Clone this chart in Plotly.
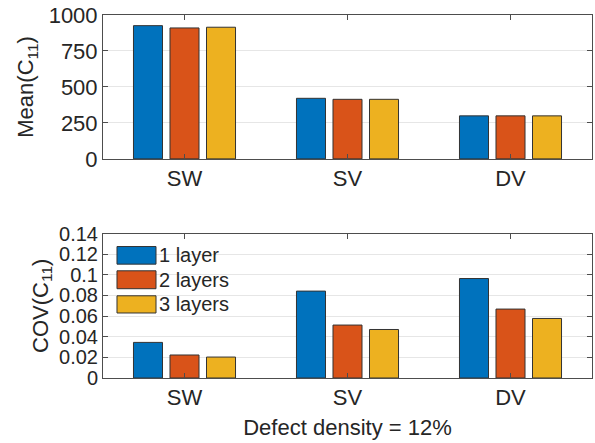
import plotly.graph_objects as go

categories = ["SW", "SV", "DV"]
series_names = ["1 layer", "2 layers", "3 layers"]
mean_values = [
    [926, 421, 299],
    [910, 414, 299],
    [915, 414, 299],
]
cov_values = [
    [0.0345, 0.0842, 0.0964],
    [0.0223, 0.0513, 0.0668],
    [0.0203, 0.0470, 0.0577],
]
colors = ["#0072BD", "#D95319", "#EDB120"]
mean_ticks = [0, 250, 500, 750, 1000]
cov_ticks = [0, 0.02, 0.04, 0.06, 0.08, 0.1, 0.12, 0.14]
cov_ticktext = ["0", "0.02", "0.04", "0.06", "0.08", "0.1", "0.12", "0.14"]

FONT = "Liberation Sans, Arial, sans-serif"
TXT = "#262626"
AX = "#4d4d4d"
GRID = "#e6e6e6"
FS = 22

fig = go.Figure()
for i, name in enumerate(series_names):
    fig.add_trace(go.Bar(x=categories, y=mean_values[i], name=name,
                         marker=dict(color=colors[i], line=dict(color="#333333", width=1)),
                         xaxis="x", yaxis="y", showlegend=False))
    fig.add_trace(go.Bar(x=categories, y=cov_values[i], name=name,
                         marker=dict(color=colors[i], line=dict(color="#333333", width=1)),
                         xaxis="x2", yaxis="y2", showlegend=False))

def axis_common(fs=FS):
    return dict(showline=True, linecolor=AX, linewidth=1, mirror="ticks",
                ticks="inside", ticklen=5, tickcolor=AX,
                tickfont=dict(family=FONT, size=fs, color=TXT))

fig.update_layout(
    width=595, height=443,
    margin=dict(l=103, r=3, t=15, b=65),
    paper_bgcolor="white", plot_bgcolor="white",
    barmode="group", bargap=0.328, bargroupgap=0.205,
    font=dict(family=FONT, color=TXT),
    xaxis=dict(domain=[0, 1], anchor="y", range=[-0.5, 2.5], showgrid=False, **axis_common()),
    yaxis=dict(domain=[0.6036, 1], anchor="x", range=[0, 1000], tickvals=mean_ticks,
               showgrid=True, gridcolor=GRID, zeroline=False,
               title=dict(text="Mean(C<sub>11</sub>)", font=dict(family=FONT, size=FS, color=TXT), standoff=8),
               **axis_common()),
    xaxis2=dict(domain=[0, 1], anchor="y2", range=[-0.5, 2.5], showgrid=False,
                title=dict(text="Defect density = 12%", font=dict(family=FONT, size=FS, color=TXT), standoff=10),
                **axis_common()),
    yaxis2=dict(domain=[0, 0.398], anchor="x2", range=[0, 0.14], tickvals=cov_ticks, ticktext=cov_ticktext,
                showgrid=True, gridcolor=GRID, zeroline=False,
                title=dict(text="COV(C<sub>11</sub>)", font=dict(family=FONT, size=FS, color=TXT), standoff=4),
                **axis_common(20)),
)

# custom legend (MATLAB-style large swatches) in bottom axes
rows_y = [(0.788, 0.910), (0.618, 0.742), (0.450, 0.569)]
for i, name in enumerate(series_names):
    y0, y1 = rows_y[i]
    fig.add_shape(type="rect", xref="x2 domain", yref="y2 domain",
                  x0=0.0286, x1=0.1084, y0=y0, y1=y1,
                  fillcolor=colors[i], line=dict(color="#333333", width=1))
    fig.add_annotation(xref="x2 domain", yref="y2 domain", x=0.111, y=(y0 + y1) / 2,
                       text=name, showarrow=False, xanchor="left", yanchor="middle",
                       font=dict(family=FONT, size=20, color=TXT))

fig.write_html("out.html")
